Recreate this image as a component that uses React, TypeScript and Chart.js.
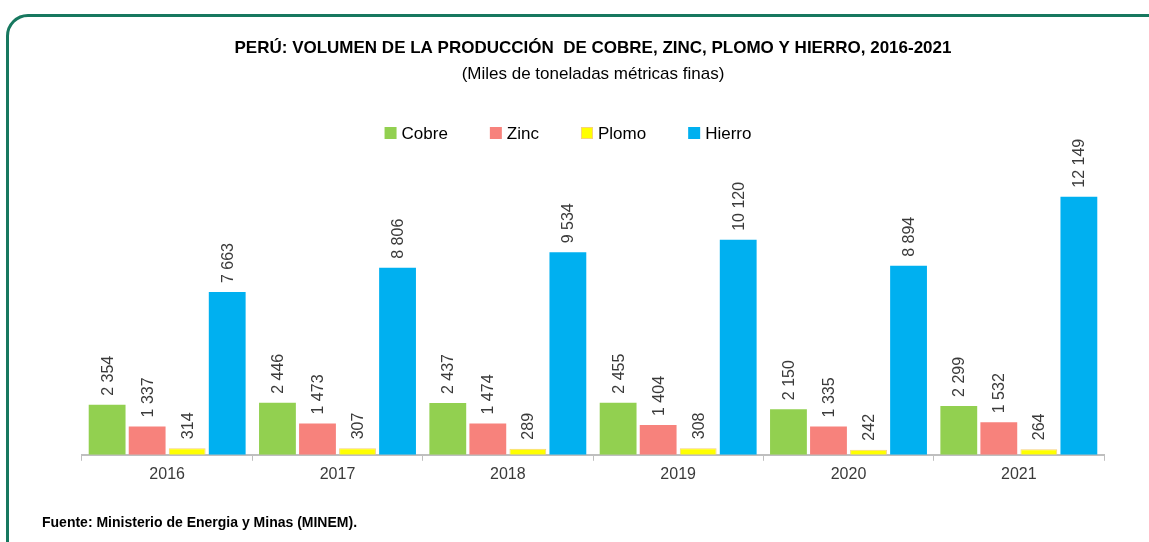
import React, { useEffect, useRef } from "react";
import { Chart, registerables } from "chart.js";

Chart.register(...registerables);

const years = ["2016", "2017", "2018", "2019", "2020", "2021"];
const cobre = [2354, 2446, 2437, 2455, 2150, 2299];
const zinc = [1337, 1473, 1474, 1404, 1335, 1532];
const plomo = [314, 307, 289, 308, 242, 264];
const hierro = [7663, 8806, 9534, 10120, 8894, 12149];

const FONT = "'Liberation Sans Narrow', 'Arial Narrow', 'Liberation Sans', Arial, sans-serif";

const fmt = (v: number) => String(v).replace(/\B(?=(\d{3})+(?!\d))/g, " ");

const labelPlugin = {
  id: "barLabels",
  afterDatasetsDraw(chart: any) {
    const ctx = chart.ctx;
    ctx.save();
    ctx.font = `16px ${FONT}`;
    ctx.fillStyle = "#3a3a3a";
    ctx.textAlign = "left";
    ctx.textBaseline = "middle";
    chart.data.datasets.forEach((ds: any, di: number) => {
      const meta = chart.getDatasetMeta(di);
      meta.data.forEach((el: any, i: number) => {
        ctx.save();
        ctx.translate(el.x, el.y - 9);
        ctx.rotate(-Math.PI / 2);
        ctx.fillText(fmt(ds.data[i]), 0, 1);
        ctx.restore();
      });
    });
    ctx.restore();
  },
};

const legendPlugin = {
  id: "customLegend",
  afterDraw(chart: any) {
    const ctx = chart.ctx;
    const box = 12;
    const gapText = 5;
    const gapItem = 42;
    const cy = 133;
    const centerX = 568;
    ctx.save();
    ctx.font = `17px ${FONT}`;
    ctx.textBaseline = "middle";
    ctx.textAlign = "left";
    const items = chart.data.datasets.map((ds: any) => ({
      label: ds.label,
      fill: ds.backgroundColor,
      stroke: ds.borderWidth ? ds.borderColor : null,
      w: ctx.measureText(ds.label).width,
    }));
    const total =
      items.reduce((s: number, it: any) => s + box + gapText + it.w, 0) + gapItem * (items.length - 1);
    let x = centerX - total / 2;
    items.forEach((it: any) => {
      ctx.fillStyle = it.fill;
      ctx.fillRect(x, cy - box / 2, box, box);
      if (it.stroke) {
        ctx.strokeStyle = it.stroke;
        ctx.lineWidth = 1;
        ctx.strokeRect(x + 0.5, cy - box / 2 + 0.5, box - 1, box - 1);
      }
      ctx.fillStyle = "#000000";
      ctx.fillText(it.label, x + box + gapText, cy + 1);
      x += box + gapText + it.w + gapItem;
    });
    ctx.restore();
  },
};

export default function App() {
  const ref = useRef<HTMLCanvasElement>(null);
  useEffect(() => {
    if (!ref.current) return;
    const chart = new Chart(ref.current, {
      type: "bar",
      data: {
        labels: years,
        datasets: [
          { label: "Cobre", data: cobre, backgroundColor: "#92d050", borderColor: "#ffffff", borderWidth: 0 },
          { label: "Zinc", data: zinc, backgroundColor: "#f7827c", borderColor: "#ffffff", borderWidth: 0 },
          { label: "Plomo", data: plomo, backgroundColor: "#ffff00", borderColor: "#f7d27a", borderWidth: 1 },
          { label: "Hierro", data: hierro, backgroundColor: "#00b0f0", borderColor: "#ffffff", borderWidth: 0 },
        ],
      },
      options: {
        animation: false,
        responsive: false,
        maintainAspectRatio: false,
        datasets: { bar: { categoryPercentage: 0.94, barPercentage: 0.92 } },
        layout: { padding: { left: 82, right: 45, top: 38, bottom: 54 } },
        scales: {
          x: {
            grid: { offset: true, drawOnChartArea: false, drawTicks: true, tickLength: 6, color: "#bfbfbf" },
            border: { display: true, color: "#bfbfbf", width: 2 },
            ticks: { color: "#3a3a3a", font: { family: FONT, size: 16 }, padding: 4 },
          },
          y: {
            display: false,
            min: 0,
            max: 13840,
          },
        },
        plugins: {
          title: {
            display: true,
            text: "PERÚ: VOLUMEN DE LA PRODUCCIÓN  DE COBRE, ZINC, PLOMO Y HIERRO, 2016-2021",
            color: "#000000",
            font: { family: FONT, size: 17, weight: "bold" },
            padding: { top: 0, bottom: 6 },
          },
          subtitle: {
            display: true,
            text: "(Miles de toneladas métricas finas)",
            color: "#000000",
            font: { family: FONT, size: 17 },
            padding: { top: 0, bottom: 76 },
          },
          legend: { display: false },
          tooltip: { enabled: false },
        },
      },
      plugins: [labelPlugin, legendPlugin],
    });
    return () => chart.destroy();
  }, []);

  return (
    <div style={{ position: "fixed", left: 0, top: 0, width: 1149, height: 542, background: "#fff", overflow: "hidden" }}>
      <div
        style={{
          position: "absolute",
          left: 6,
          top: 14,
          width: 1180,
          height: 560,
          border: "3px solid #17785f",
          borderRadius: 22,
          boxSizing: "border-box",
        }}
      />
      <canvas ref={ref} width={1149} height={542} style={{ position: "absolute", left: 0, top: 0 }} />
      <div
        style={{
          position: "absolute",
          left: 42,
          top: 514,
          fontFamily: FONT,
          fontWeight: "bold",
          fontSize: 14,
          color: "#000",
        }}
      >
        Fuente: Ministerio de Energia y Minas (MINEM).
      </div>
    </div>
  );
}
